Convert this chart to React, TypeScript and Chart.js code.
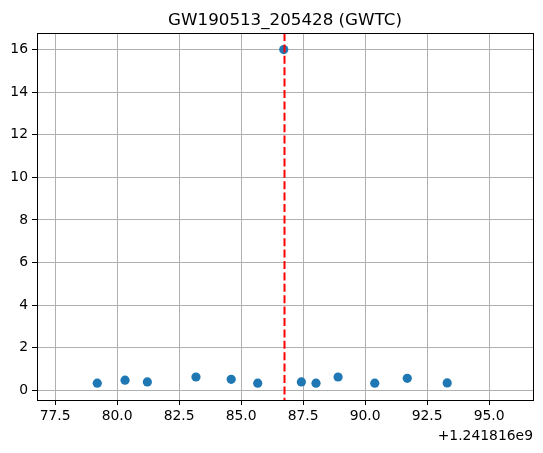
import React, { useEffect, useRef } from "react";
import { Chart, registerables } from "chart.js";

Chart.register(...registerables);

const TITLE = "GW190513_205428 (GWTC)";
const OFFSET_LABEL = "+1.241816e9";
const EVENT_TIME = 86.75;
const X_MIN = 76.77;
const X_MAX = 96.77;
const Y_MIN = -0.46;
const Y_MAX = 16.78;
const X_TICKS = [77.5, 80.0, 82.5, 85.0, 87.5, 90.0, 92.5, 95.0];
const Y_TICKS = [0, 2, 4, 6, 8, 10, 12, 14, 16];
const TIMES = [79.2, 80.32, 81.22, 83.18, 84.6, 85.67, 86.72, 87.43, 88.02, 88.91, 90.39, 91.7, 93.31];
const VALUES = [0.33, 0.47, 0.39, 0.62, 0.51, 0.33, 16.0, 0.39, 0.33, 0.62, 0.33, 0.56, 0.34];

const FONT = "'DejaVu Sans', sans-serif";

const decorPlugin = {
  id: "decor",
  afterDatasetsDraw(chart: any) {
    const { ctx, chartArea, scales } = chart;
    const x = scales.x.getPixelForValue(EVENT_TIME);
    ctx.save();
    ctx.beginPath();
    ctx.rect(chartArea.left, chartArea.top, chartArea.right - chartArea.left, chartArea.bottom - chartArea.top);
    ctx.clip();
    ctx.strokeStyle = "#ff0000";
    ctx.lineWidth = 2;
    ctx.setLineDash([8, 3.4]);
    ctx.beginPath();
    ctx.moveTo(x, chartArea.top);
    ctx.lineTo(x, chartArea.bottom);
    ctx.stroke();
    ctx.restore();
  },
  afterDraw(chart: any) {
    const { ctx, chartArea } = chart;
    ctx.save();
    ctx.strokeStyle = "#000";
    ctx.lineWidth = 1;
    ctx.strokeRect(
      Math.round(chartArea.left) + 0.5,
      Math.round(chartArea.top) + 0.5,
      Math.round(chartArea.right - chartArea.left),
      Math.round(chartArea.bottom - chartArea.top)
    );
    ctx.fillStyle = "#000";
    ctx.font = `16.7px ${FONT}`;
    ctx.textAlign = "center";
    ctx.textBaseline = "alphabetic";
    ctx.fillText(TITLE, (chartArea.left + chartArea.right) / 2, 25);
    ctx.font = `13.9px ${FONT}`;
    ctx.textAlign = "right";
    ctx.textBaseline = "middle";
    ctx.fillText(OFFSET_LABEL, chartArea.right, 436);
    ctx.restore();
  },
};

export default function App() {
  const ref = useRef<HTMLCanvasElement>(null);
  useEffect(() => {
    document.body.style.margin = "0";
    const points = TIMES.map((t, i) => ({ x: t, y: VALUES[i] }));
    const chart = new Chart(ref.current!, {
      type: "scatter",
      data: {
        datasets: [
          {
            data: points,
            backgroundColor: "#1f77b4",
            borderColor: "#1f77b4",
            pointRadius: 4.6,
            pointHoverRadius: 4.6,
            borderWidth: 0,
          },
        ],
      },
      options: {
        animation: false,
        responsive: false,
        maintainAspectRatio: false,
        layout: { padding: { top: 33, right: 10, left: 0, bottom: 0 } },
        plugins: { legend: { display: false }, tooltip: { enabled: false }, title: { display: false } },
        scales: {
          x: {
            type: "linear",
            min: X_MIN,
            max: X_MAX,
            afterBuildTicks: (s: any) => {
              s.ticks = X_TICKS.map((v) => ({ value: v }));
            },
            afterFit: (s: any) => {
              s.height = 53;
            },
            ticks: {
              color: "#000",
              font: { family: FONT, size: 13.9 },
              padding: 3,
              maxRotation: 0,
              autoSkip: false,
              callback: (v: any) => Number(v).toFixed(1),
            },
            grid: { color: "#b0b0b0", lineWidth: 1, tickColor: "#000", tickLength: 5, drawTicks: true },
            border: { color: "#000", width: 1 },
          },
          y: {
            type: "linear",
            min: Y_MIN,
            max: Y_MAX,
            afterBuildTicks: (s: any) => {
              s.ticks = Y_TICKS.map((v) => ({ value: v }));
            },
            afterFit: (s: any) => {
              s.width = 37;
            },
            ticks: {
              color: "#000",
              font: { family: FONT, size: 13.9 },
              padding: 4,
              autoSkip: false,
              callback: (v: any) => String(v),
            },
            grid: { color: "#b0b0b0", lineWidth: 1, tickColor: "#000", tickLength: 5, drawTicks: true },
            border: { color: "#000", width: 1 },
          },
        },
      },
      plugins: [decorPlugin],
    });
    return () => chart.destroy();
  }, []);
  return (
    <div style={{ width: 543, height: 453, background: "#fff" }}>
      <canvas ref={ref} width={543} height={453} style={{ width: 543, height: 453, display: "block" }} />
    </div>
  );
}
